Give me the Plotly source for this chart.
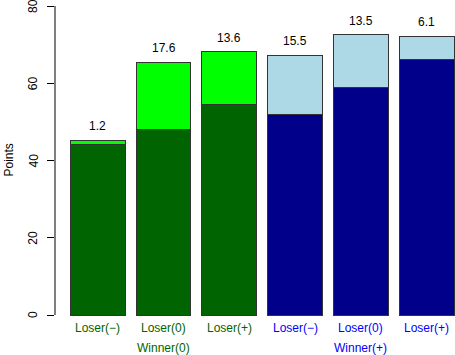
import plotly.graph_objects as go

categories = ["Loser(−)", "Loser(0)", "Loser(+)", "Loser(−)", "Loser(0)", "Loser(+)"]
groups = ["Winner(0)", "Winner(+)"]
base_values = [44.1, 47.9, 54.5, 51.8, 59.0, 66.1]
top_values = [1.2, 17.6, 13.6, 15.5, 13.5, 6.1]
base_colors = ["#006400"] * 3 + ["#00008B"] * 3
top_colors = ["#00FF00"] * 3 + ["#ADD8E6"] * 3
label_colors = ["#006400"] * 3 + ["#0000FF"] * 3
y_ticks = [0, 20, 40, 60, 80]

xpos = [0.7 + 1.2 * i for i in range(len(categories))]
totals = [b + t for b, t in zip(base_values, top_values)]

fig = go.Figure()
fig.add_bar(x=xpos, y=base_values, width=1.0, marker=dict(color=base_colors, line=dict(color="#333333", width=1)))
fig.add_bar(x=xpos, y=top_values, width=1.0, marker=dict(color=top_colors, line=dict(color="#333333", width=1)))

font = "Liberation Sans, Arial, Helvetica, sans-serif"
ann = []
for x, tot, tv in zip(xpos, totals, top_values):
    ann.append(dict(x=x, y=tot, xref="x", yref="y", text=f"{tv:.1f}", showarrow=False,
                    yanchor="bottom", yshift=5, font=dict(size=12, color="black", family=font)))
for x, c, col in zip(xpos, categories, label_colors):
    ann.append(dict(x=x, y=0, xref="x", yref="y", text=c, showarrow=False,
                    yanchor="top", yshift=-4, font=dict(size=12, color=col, family=font)))
for i, g in enumerate(groups):
    x = xpos[1 + 3 * i]
    ann.append(dict(x=x, y=0, xref="x", yref="y", text=g, showarrow=False,
                    yanchor="top", yshift=-24, font=dict(size=12, color=label_colors[1 + 3 * i], family=font)))
for v in y_ticks:
    ann.append(dict(x=0, y=v, xref="paper", yref="y", text=str(v), showarrow=False, textangle=-90,
                    xanchor="center", yanchor="middle", xshift=-22, font=dict(size=12, color="black", family=font)))
ann.append(dict(x=0, y=40, xref="paper", yref="y", text="Points", showarrow=False, textangle=-90,
                xanchor="center", xshift=-47, font=dict(size=12, color="black", family=font)))

fig.update_layout(
    barmode="stack",
    width=455, height=355,
    margin=dict(l=55, r=0, t=0, b=28),
    plot_bgcolor="white", paper_bgcolor="white",
    showlegend=False,
    annotations=ann,
    xaxis=dict(range=[-0.08, 7.218], showgrid=False, zeroline=False, showticklabels=False, showline=False, ticks=""),
    yaxis=dict(range=[-3.107, 81.553], tickvals=y_ticks, showticklabels=False,
               showgrid=False, zeroline=False, showline=False, ticks="outside", ticklen=7,
               tickcolor="black"),
    shapes=[dict(type="line", xref="paper", yref="y", x0=0, x1=0, y0=0, y1=80,
                 line=dict(color="black", width=1))],
)
fig.write_html("out.html", config={"displayModeBar": False},
               post_script="document.body.style.margin='0px';document.body.style.overflow='hidden';")
